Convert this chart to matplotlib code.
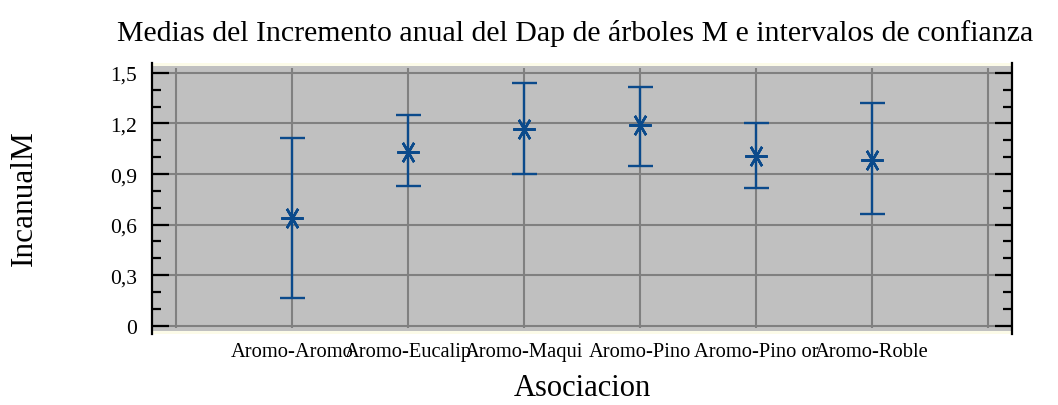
import numpy as np
import matplotlib
matplotlib.use('Agg')
import matplotlib.pyplot as plt
from matplotlib.ticker import MultipleLocator, FixedLocator, FuncFormatter
from matplotlib.patches import Rectangle

plt.rcParams['font.family'] = ['Liberation Serif', 'DejaVu Serif']

# means and 95% interval limits of annual diameter increment, by association
asociaciones = ['Aromo-Aromo', 'Aromo-Eucalip', 'Aromo-Maqui', 'Aromo-Pino', 'Aromo-Pino or', 'Aromo-Roble']
medias = [0.639, 1.033, 1.167, 1.189, 1.009, 0.983]
limite_inf = [0.166, 0.827, 0.900, 0.950, 0.817, 0.661]
limite_sup = [1.116, 1.250, 1.440, 1.419, 1.203, 1.322]
yticks = [0, 0.3, 0.6, 0.9, 1.2, 1.5]

x = np.arange(1, len(asociaciones) + 1)
medias = np.array(medias)
err = [medias - np.array(limite_inf), np.array(limite_sup) - medias]

fig = plt.figure(figsize=(10.58, 4.06), dpi=100)
ax = fig.add_axes([0.1437, 0.1749, 0.8129, 0.6675])
ax.set_facecolor('#fcfbe8')
ax.add_patch(Rectangle((0, 0.011), 1, 0.978, transform=ax.transAxes,
                       facecolor='#c0c0c0', edgecolor='none', zorder=0))

ax.set_xlim(-0.21, 7.21)
ax.set_ylim(-0.049, 1.559)

# grid
for yv in yticks:
    ax.axhline(yv, color='#808080', lw=1.5, zorder=1)
ax.vlines(np.arange(0, 8), -0.015, 1.53, color='#808080', lw=1.5, zorder=1)

azul = '#0b4a8b'
ax.errorbar(x, medias, yerr=err, fmt='none', ecolor=azul, elinewidth=1.7,
            capsize=9, capthick=1.7, zorder=3)
ax.plot(x, medias, linestyle='none', marker=(6, 2, 90), markersize=16,
        markeredgewidth=1.8, color=azul, zorder=4)

# axes styling
for s in ['top', 'bottom']:
    ax.spines[s].set_visible(False)
for s in ['left', 'right']:
    ax.spines[s].set_linewidth(1.6)
ax.yaxis.set_major_locator(FixedLocator(yticks))
ax.yaxis.set_minor_locator(MultipleLocator(0.1))
ax.yaxis.set_major_formatter(FuncFormatter(lambda v, p: ('%g' % round(v, 1)).replace('.', ',')))
ax.tick_params(axis='y', which='major', direction='in', length=12.5, width=1.6,
               left=True, right=True, labelsize=15.5, pad=11)
ax.tick_params(axis='y', which='minor', direction='in', length=6.5, width=1.6,
               left=True, right=True)
ax.set_xticks(x)
ax.set_xticklabels(asociaciones)
ax.tick_params(axis='x', length=0, labelsize=14.8, pad=6)

fig.text(575 / 1058, 1 - 41 / 406, 'Medias del Incremento anual del Dap de árboles M e intervalos de confianza',
         ha='center', va='baseline', fontsize=21.5)
fig.text(582 / 1058, 3 / 406, 'Asociacion', ha='center', va='bottom', fontsize=22)
fig.text(24 / 1058, 1 - 198 / 406, 'IncanualM', ha='center', va='center', rotation=90, fontsize=22.5)

fig.savefig('out.png', dpi=100)
